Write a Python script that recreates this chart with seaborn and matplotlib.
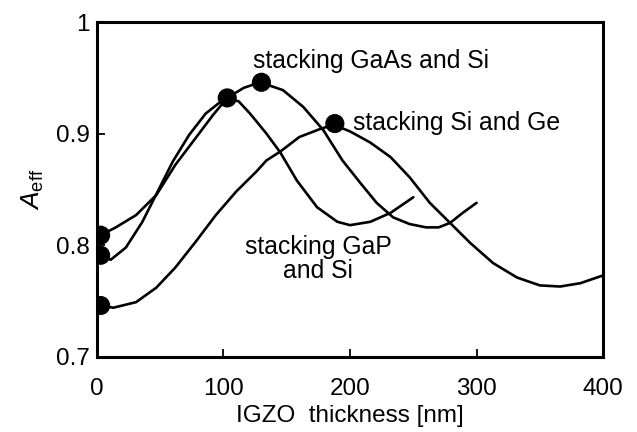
import matplotlib
matplotlib.use("Agg")
import matplotlib.pyplot as plt
import seaborn as sns
import pandas as pd

# curve data (IGZO thickness in nm, A_eff)
gaas_x = [3, 15, 31, 47, 62, 78, 92, 103, 116, 129, 147, 163, 179, 194, 208, 221, 234, 247,
          260, 270, 279, 289, 300]
gaas_y = [0.809, 0.816, 0.827, 0.845, 0.872, 0.896, 0.917, 0.932, 0.941, 0.946, 0.939, 0.924,
          0.903, 0.876, 0.856, 0.838, 0.825, 0.819, 0.816, 0.816, 0.820, 0.829, 0.838]

gap_x = [3, 11, 23, 36, 48, 60, 73, 86, 96, 103, 112, 121, 134, 145, 158, 174, 190, 200, 216,
         232, 250]
gap_y = [0.791, 0.787, 0.798, 0.821, 0.848, 0.875, 0.899, 0.918, 0.927, 0.931, 0.929, 0.918,
         0.900, 0.883, 0.858, 0.834, 0.821, 0.818, 0.821, 0.829, 0.843]

sige_x = [3, 13, 31, 47, 62, 78, 94, 110, 126, 134, 145, 160, 176, 187, 200, 216, 232, 247,
          263, 279, 295, 313, 332, 350, 366, 382, 400]
sige_y = [0.746, 0.744, 0.749, 0.762, 0.780, 0.803, 0.827, 0.848, 0.866, 0.876, 0.884, 0.897,
          0.904, 0.908, 0.902, 0.892, 0.879, 0.861, 0.838, 0.820, 0.802, 0.784, 0.771, 0.764,
          0.763, 0.766, 0.773]

# highlighted points (start values and maxima)
dot_x = [3, 3, 3, 103, 130, 188]
dot_y = [0.809, 0.791, 0.746, 0.932, 0.946, 0.909]

sns.set_style("ticks")
plt.rcParams["font.family"] = ["Liberation Sans", "DejaVu Sans"]
plt.rcParams["mathtext.fontset"] = "custom"
plt.rcParams["mathtext.rm"] = "Liberation Sans"
plt.rcParams["mathtext.it"] = "Liberation Sans:italic"
plt.rcParams["text.color"] = "black"
plt.rcParams["axes.labelcolor"] = "black"
plt.rcParams["axes.edgecolor"] = "black"

fig = plt.figure(figsize=(6.37, 4.32), dpi=100)
ax = fig.add_axes([0.152, 0.174, 0.795, 0.775])

for xs, ys in [(gaas_x, gaas_y), (gap_x, gap_y), (sige_x, sige_y)]:
    df = pd.DataFrame({"x": xs, "y": ys})
    sns.lineplot(data=df, x="x", y="y", ax=ax, color="black", linewidth=1.9,
                 estimator=None, sort=False, solid_joinstyle="round")

sns.scatterplot(x=dot_x, y=dot_y, ax=ax, color="black", s=190, edgecolor="none", zorder=5)

ax.set_xlim(0, 400)
ax.set_ylim(0.7, 1.0)
ax.set_xticks([0, 100, 200, 300, 400])
ax.set_yticks([0.7, 0.8, 0.9, 1.0])
ax.set_yticklabels(["0.7", "0.8", "0.9", "1"])
ax.tick_params(direction="in", length=6, width=1.3, labelsize=17.5, colors="black")
ax.tick_params(axis="x", pad=15)
ax.tick_params(axis="y", pad=5)
for s in ax.spines.values():
    s.set_linewidth(2.2)
    s.set_visible(True)

ax.set_xlabel("IGZO  thickness [nm]", fontsize=17.5, labelpad=4)
ax.set_ylabel(r"$A_{\rm eff}$", fontsize=19, labelpad=7)

ax.text(123, 0.959, "stacking GaAs and Si", fontsize=17.8, va="baseline", ha="left")
ax.text(202, 0.903, "stacking Si and Ge", fontsize=17.8, va="baseline", ha="left")
ax.text(175, 0.771, "stacking GaP\nand Si", fontsize=17.8, va="baseline", ha="center",
        multialignment="center", linespacing=1.0)

fig.savefig("out.png", dpi=100)
